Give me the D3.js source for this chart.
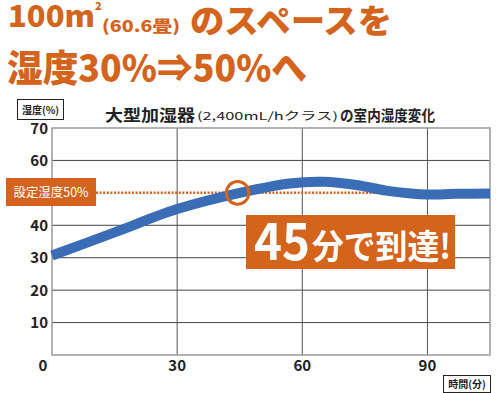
<!DOCTYPE html>
<html>
<head>
<meta charset="utf-8">
<script src="https://cdn.jsdelivr.net/npm/d3@7"></script>
<style>
  body { margin: 0; background: #fff; }
  svg text { font-family: "Noto Sans CJK JP", "Noto Sans", sans-serif; }
</style>
</head>
<body>
<div id="chart"></div>
<script>
// humidity curve (minutes, %)
var minutes = [0, 15, 30, 45, 57, 65, 73, 80, 86, 90, 97, 105];
var humidity = [30.7, 37.8, 45, 50, 52.9, 53.4, 52.4, 50.7, 49.8, 49.5, 49.7, 49.8];

var yGrid = [10, 20, 30, 40, 60];
var yLabels = [10, 20, 30, 40, 60, 70];
var xGrid = [30, 60, 90];
var xLabels = [0, 30, 60, 90];

var target = 50,       // 設定湿度
    reachedAt = 44.5,  // minute where target is reached
    dottedEnd = 79;    // dotted guide ends where the curve comes back down

var orange = "#d4631c",
    blue = "#3b6db6";

var width = 500,
    height = 393,
    plotLeft = 52, plotRight = 490, plotTop = 128, plotBottom = 355;

var svg = d3.select("#chart")
    .append("svg")
    .attr("width", width)
    .attr("height", height);

var x = d3.scaleLinear().domain([0, 105]).range([plotLeft, plotRight]),
    y = d3.scaleLinear().domain([0, 70]).range([plotBottom, plotTop]);

// headline
var head = svg.append("g").attr("fill", orange).attr("font-weight", 900);
head.append("text").attr("x", 8).attr("y", 27)
    .attr("font-size", 30).attr("textLength", 87).attr("lengthAdjust", "spacingAndGlyphs")
    .text("100m");
head.append("text").attr("x", 95).attr("y", 10)
    .attr("font-size", 11).text("2");
head.append("text").attr("x", 102).attr("y", 32)
    .attr("font-size", 16).attr("textLength", 78).attr("lengthAdjust", "spacingAndGlyphs")
    .text("(60.6畳)");
head.append("text").attr("x", 190).attr("y", 33)
    .attr("font-size", 33).attr("textLength", 202).attr("lengthAdjust", "spacingAndGlyphs")
    .text("のスペースを");
head.append("text").attr("x", 7).attr("y", 82)
    .attr("font-size", 37).attr("textLength", 300).attr("lengthAdjust", "spacingAndGlyphs")
    .text("湿度30%⇒50%へ");

// chart title
var title = svg.append("g").attr("fill", "#222").attr("font-weight", "bold");
title.append("text").attr("x", 105).attr("y", 121)
    .attr("font-size", 16).attr("textLength", 90).attr("lengthAdjust", "spacingAndGlyphs")
    .text("大型加湿器");
title.append("text").attr("x", 197).attr("y", 120)
    .attr("font-size", 11).attr("font-weight", "normal")
    .attr("textLength", 141).attr("lengthAdjust", "spacingAndGlyphs")
    .text("(2,400mL/hクラス)");
title.append("text").attr("x", 340).attr("y", 121)
    .attr("font-size", 15).attr("textLength", 95).attr("lengthAdjust", "spacingAndGlyphs")
    .text("の室内湿度変化");

// axis name boxes
function nameBox(bx, by, bw, bh, label) {
    svg.append("rect")
        .attr("x", bx).attr("y", by).attr("width", bw).attr("height", bh)
        .attr("fill", "#fff").attr("stroke", "#222").attr("stroke-width", 1);
    svg.append("text")
        .attr("x", bx + bw / 2).attr("y", by + bh / 2 + 4)
        .attr("text-anchor", "middle")
        .attr("font-size", 10).attr("font-weight", "bold").attr("fill", "#222")
        .text(label);
}
nameBox(17.5, 99.5, 46, 20, "湿度(%)");
nameBox(443.5, 375.5, 47, 17, "時間(分)");

// grid lines
svg.append("g")
    .selectAll("line")
    .data(yGrid)
    .enter().append("line")
    .attr("x1", plotLeft).attr("x2", plotRight)
    .attr("y1", function(d) { return y(d); })
    .attr("y2", function(d) { return y(d); })
    .attr("stroke", "#444").attr("stroke-width", 1);

svg.append("g")
    .selectAll("line")
    .data(xGrid)
    .enter().append("line")
    .attr("x1", function(d) { return x(d); })
    .attr("x2", function(d) { return x(d); })
    .attr("y1", plotTop).attr("y2", plotBottom)
    .attr("stroke", "#555").attr("stroke-width", 1);

// plot frame
svg.append("rect")
    .attr("x", plotLeft).attr("y", plotTop)
    .attr("width", plotRight - plotLeft).attr("height", plotBottom - plotTop)
    .attr("fill", "none").attr("stroke", "#999").attr("stroke-width", 1.5);

// tick labels
svg.append("g")
    .selectAll("text")
    .data(yLabels)
    .enter().append("text")
    .attr("x", plotLeft - 4)
    .attr("y", function(d) { return y(d) + 5.5; })
    .attr("text-anchor", "end")
    .attr("font-family", "Liberation Sans, Arial, sans-serif")
    .attr("font-size", 15).attr("font-weight", "bold").attr("fill", "#222")
    .text(function(d) { return d; });

svg.append("g")
    .selectAll("text")
    .data(xLabels)
    .enter().append("text")
    .attr("x", function(d) { return d === 0 ? x(d) - 9 : x(d); })
    .attr("y", 371)
    .attr("text-anchor", "middle")
    .attr("font-family", "Liberation Sans, Arial, sans-serif")
    .attr("font-size", 15).attr("font-weight", "bold").attr("fill", "#222")
    .text(function(d) { return d; });

// target label and dotted guide
svg.append("line")
    .attr("x1", 96).attr("x2", x(dottedEnd))
    .attr("y1", y(target)).attr("y2", y(target))
    .attr("stroke", orange).attr("stroke-width", 2.5)
    .attr("stroke-dasharray", "2,1.6");

svg.append("rect")
    .attr("x", 6).attr("y", 178).attr("width", 90).attr("height", 28)
    .attr("fill", orange);
svg.append("text")
    .attr("x", 51).attr("y", 197)
    .attr("text-anchor", "middle")
    .attr("font-size", 12.5).attr("fill", "#fff")
    .attr("textLength", 75).attr("lengthAdjust", "spacingAndGlyphs")
    .text("設定湿度" + target + "%");

// humidity curve
var line = d3.line()
    .x(function(d, i) { return x(minutes[i]); })
    .y(function(d) { return y(d); })
    .curve(d3.curveCatmullRom);

svg.append("path")
    .datum(humidity)
    .attr("d", line)
    .attr("fill", "none")
    .attr("stroke", blue)
    .attr("stroke-width", 10);

// circle where target is reached
svg.append("circle")
    .attr("cx", x(reachedAt)).attr("cy", y(target))
    .attr("r", 11.3)
    .attr("fill", "none")
    .attr("stroke", orange).attr("stroke-width", 3);

// callout
svg.append("rect")
    .attr("x", 246).attr("y", 215).attr("width", 209).attr("height", 54)
    .attr("fill", orange);
svg.append("text")
    .attr("x", 254).attr("y", 260)
    .attr("font-family", "Liberation Sans, Arial, sans-serif")
    .attr("font-size", 52).attr("font-weight", "bold").attr("fill", "#fff")
    .attr("textLength", 56).attr("lengthAdjust", "spacingAndGlyphs")
    .text("45");
svg.append("text")
    .attr("x", 312).attr("y", 259)
    .attr("font-size", 34).attr("font-weight", "bold").attr("fill", "#fff")
    .attr("textLength", 139).attr("lengthAdjust", "spacingAndGlyphs")
    .text("分で到達!");
</script>
</body>
</html>
